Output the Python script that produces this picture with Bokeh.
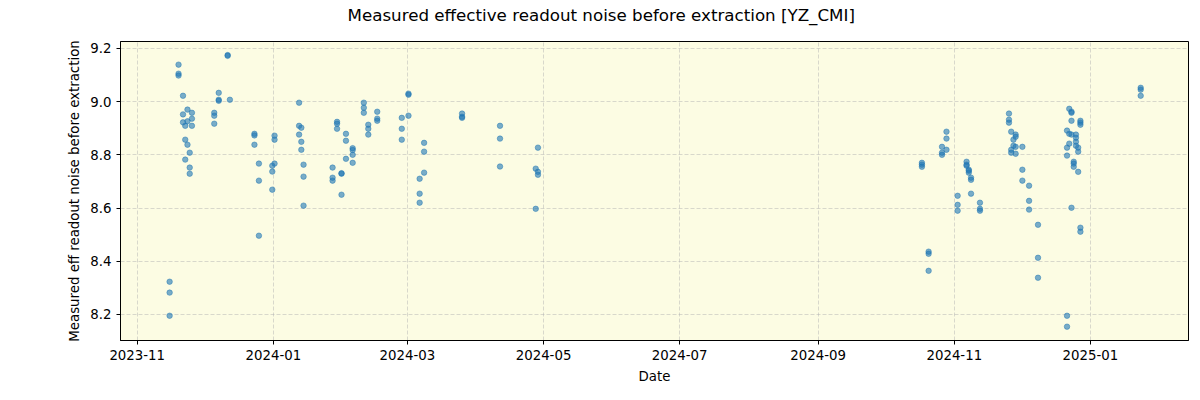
import pandas as pd
from bokeh.plotting import figure
from bokeh.models import (ColumnDataSource, FixedTicker, DatetimeTickFormatter,
                          PrintfTickFormatter, Range1d, Title)
from bokeh.embed import file_html
from bokeh.resources import INLINE

title_text = "Measured effective readout noise before extraction [YZ_CMI]"
x_label = "Date"
y_label = "Measured eff readout noise before extraction"

obs_days = [
    "2023-11-15", "2023-11-19", "2023-11-21", "2023-11-22", "2023-11-23",
    "2023-11-24", "2023-11-25", "2023-12-05", "2023-12-07", "2023-12-11",
    "2023-12-12", "2023-12-23", "2023-12-25", "2023-12-31", "2024-01-01",
    "2024-01-12", "2024-01-13", "2024-01-14", "2024-01-27", "2024-01-29",
    "2024-01-31", "2024-02-02", "2024-02-05", "2024-02-10", "2024-02-12",
    "2024-02-16", "2024-02-27", "2024-03-01", "2024-03-06", "2024-03-08",
    "2024-03-25", "2024-04-11", "2024-04-27", "2024-04-28", "2024-10-17",
    "2024-10-20", "2024-10-26", "2024-10-28", "2024-11-02", "2024-11-06",
    "2024-11-07", "2024-11-08", "2024-11-12", "2024-11-25", "2024-11-26",
    "2024-11-27", "2024-11-28", "2024-12-01", "2024-12-04", "2024-12-08",
    "2024-12-21", "2024-12-22", "2024-12-23", "2024-12-24", "2024-12-25",
    "2024-12-26", "2024-12-27", "2025-01-23",
]
obs_values = [
    [8.323, 8.282, 8.195], [9.139, 9.105, 9.098], [9.022, 8.952, 8.922],
    [8.909, 8.857, 8.782], [8.970, 8.926, 8.838], [8.808, 8.752, 8.729],
    [8.958, 8.936, 8.909], [8.958, 8.947, 8.917], [9.033, 9.007, 9.003],
    [9.175, 9.172], [9.007], [8.879, 8.873, 8.838], [8.767, 8.703, 8.496],
    [8.759, 8.737, 8.669], [8.872, 8.857, 8.767], [8.996, 8.909, 8.876],
    [8.902, 8.849, 8.819], [8.763, 8.718, 8.609], [8.752, 8.714, 8.703],
    [8.924, 8.917, 8.898], [8.731, 8.729, 8.650], [8.879, 8.853, 8.785],
    [8.825, 8.818, 8.800, 8.770], [8.996, 8.977, 8.958], [8.913, 8.898, 8.876],
    [8.962, 8.936, 8.928], [8.939, 8.898, 8.857], [9.030, 9.026, 8.947],
    [8.710, 8.654, 8.620], [8.845, 8.812, 8.733], [8.955, 8.943, 8.939],
    [8.909, 8.861, 8.756], [8.748, 8.597], [8.827, 8.736, 8.725],
    [8.770, 8.763, 8.755], [8.436, 8.428, 8.364], [8.830, 8.808, 8.800],
    [8.887, 8.861, 8.819], [8.646, 8.612, 8.590], [8.774, 8.763, 8.759],
    [8.744, 8.740, 8.733], [8.714, 8.706, 8.654], [8.620, 8.597, 8.590],
    [8.955, 8.932, 8.921], [8.887, 8.819, 8.808], [8.857, 8.834],
    [8.876, 8.868, 8.830, 8.804], [8.830, 8.744, 8.703], [8.684, 8.627, 8.594],
    [8.537, 8.413, 8.338], [8.891, 8.827, 8.797, 8.195, 8.154],
    [8.973, 8.879, 8.842], [8.962, 8.958, 8.928, 8.876, 8.601],
    [8.774, 8.767, 8.755], [8.876, 8.864, 8.849, 8.834], [8.827, 8.812, 8.736],
    [8.928, 8.921, 8.913, 8.526, 8.511], [9.052, 9.045, 9.022],
]

x_tick_labels = ["2023-11", "2024-01", "2024-03", "2024-05", "2024-07",
                 "2024-09", "2024-11", "2025-01"]
y_ticks = [8.2, 8.4, 8.6, 8.8, 9.0, 9.2]

dates, values = [], []
for d, vs in zip(obs_days, obs_values):
    for v in vs:
        dates.append(pd.Timestamp(d) + pd.Timedelta(hours=12))
        values.append(v)

src = ColumnDataSource(data=dict(date=dates, value=values))

x_start = pd.Timestamp("2023-10-24 12:00")
x_end = pd.Timestamp("2025-02-13 22:00")

FONT = "DejaVu Sans"

p = figure(width=1200, height=400, x_axis_type="datetime",
           output_backend="svg", toolbar_location=None,
           x_range=Range1d(x_start, x_end), y_range=Range1d(8.102, 9.226),
           min_border_left=120, min_border_right=12, min_border_top=41,
           min_border_bottom=60)
p.title = None

# spacer panel nearest the frame, then the real title further out
spacer = Title(text=" ", text_font_size="2px", standoff=13)
p.add_layout(spacer, "above")
main_title = Title(text=title_text, align="left", offset=227,
                   text_font=FONT, text_font_size="16.7px",
                   text_font_style="normal", text_color="black", standoff=0)
p.add_layout(main_title, "above")

p.background_fill_color = "#fcfce3"
p.border_fill_color = "white"
p.outline_line_color = "black"
p.outline_line_width = 1

p.scatter(x="date", y="value", source=src, size=5.5,
          fill_color="#1f77b4", fill_alpha=0.6,
          line_color="#1f77b4", line_alpha=0.6, line_width=0.8)

tick_ms = [pd.Timestamp(t + "-01").value // 10**6 for t in x_tick_labels]
p.xaxis.ticker = FixedTicker(ticks=tick_ms)
fmt = "%Y-%m"
p.xaxis.formatter = DatetimeTickFormatter(
    milliseconds=fmt, seconds=fmt, minsec=fmt, minutes=fmt, hourmin=fmt,
    hours=fmt, days=fmt, months=fmt, years=fmt)
p.yaxis.ticker = FixedTicker(ticks=y_ticks)
p.yaxis.formatter = PrintfTickFormatter(format="%.1f")

for ax in (p.xaxis, p.yaxis):
    ax.axis_line_color = "black"
    ax.major_tick_line_color = "black"
    ax.major_tick_out = 4
    ax.major_tick_in = 0
    ax.minor_tick_line_color = None
    ax.major_label_text_font = FONT
    ax.major_label_text_font_size = "10pt"
    ax.major_label_text_color = "black"
    ax.axis_label_text_font = FONT
    ax.axis_label_text_font_size = "10pt"
    ax.axis_label_text_font_style = "normal"
    ax.axis_label_text_color = "black"

p.xaxis.axis_label = x_label
p.yaxis.axis_label = y_label
p.xaxis.axis_label_standoff = 6
p.yaxis.axis_label_standoff = 5

p.grid.grid_line_color = "#b0b0b0"
p.grid.grid_line_alpha = 0.6
p.grid.grid_line_dash = "4 2"
p.grid.grid_line_width = 0.8

open("out.html", "w").write(file_html(p, INLINE))
